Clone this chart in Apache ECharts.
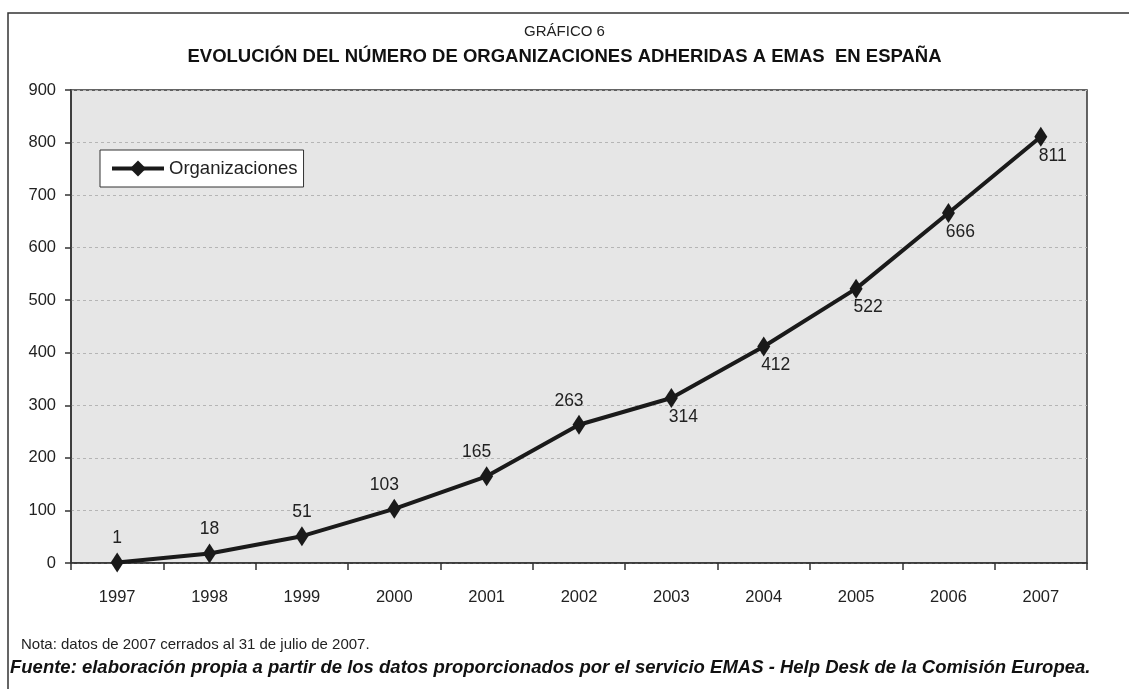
<!DOCTYPE html>
<html>
<head>
<meta charset="utf-8">
<script src="https://cdn.jsdelivr.net/npm/echarts@6/dist/echarts.min.js"></script>
<style>
  html, body { margin: 0; padding: 0; background: #fff; }
  #chart { width: 1129px; height: 689px; }
</style>
</head>
<body>
<div id="chart"></div>
<script>
// datos del gráfico
var years = ['1997', '1998', '1999', '2000', '2001', '2002', '2003', '2004', '2005', '2006', '2007'];
var organizaciones = [1, 18, 51, 103, 165, 263, 314, 412, 522, 666, 811];
var yTicks = [0, 100, 200, 300, 400, 500, 600, 700, 800, 900];

var font = '"Liberation Sans", Arial, sans-serif';
var chart = echarts.init(document.getElementById('chart'));

// primeros años etiqueta arriba (algo a la izquierda), el resto abajo a la derecha
var seriesData = organizaciones.map(function (v, i) {
  var above = i < 6;
  return {
    value: v,
    label: {
      position: above ? 'top' : 'bottom',
      distance: above ? 5 : 0,
      offset: above ? [i < 3 ? 0 : -10, 0] : [12, 0]
    }
  };
});

var option = {
  animation: false,
  textStyle: { fontFamily: font },
  title: [
    {
      text: 'GRÁFICO 6',
      left: 'center', top: 19,
      textStyle: { fontSize: 15, fontWeight: 'normal', color: '#222', fontFamily: font }
    },
    {
      text: 'EVOLUCIÓN DEL NÚMERO DE ORGANIZACIONES ADHERIDAS A EMAS  EN ESPAÑA',
      left: 'center', top: 42,
      textStyle: { fontSize: 18.5, fontWeight: 'bold', color: '#111', fontFamily: font }
    }
  ],
  graphic: [
    {
      type: 'rect',
      shape: { x: 8, y: 13, width: 1200, height: 800 },
      style: { fill: 'none', stroke: '#333', lineWidth: 1.5 },
      silent: true
    },
    {
      type: 'text', left: 21, top: 637,
      style: { text: 'Nota: datos de 2007 cerrados al 31 de julio de 2007.', font: '15px ' + font, fill: '#222' }
    },
    {
      type: 'text', left: 10, top: 658,
      style: { text: 'Fuente: elaboración propia a partir de los datos proporcionados por el servicio EMAS - Help Desk de la Comisión Europea.', font: 'italic bold 18.5px ' + font, fill: '#111' }
    }
  ],
  legend: {
    data: ['Organizaciones'],
    left: 100, top: 150,
    padding: [9, 6, 9, 10],
    backgroundColor: '#fff',
    borderColor: '#333',
    borderWidth: 1,
    borderRadius: 0,
    itemWidth: 52,
    itemHeight: 20,
    itemGap: 4,
    lineStyle: { width: 4 },
    textStyle: { fontSize: 18.5, color: '#222', fontFamily: font }
  },
  grid: {
    left: 71, right: 42, top: 90, bottom: 126,
    show: true,
    backgroundColor: '#e6e6e6',
    borderColor: '#333',
    borderWidth: 1.5
  },
  xAxis: {
    type: 'category',
    data: years,
    boundaryGap: true,
    axisLine: { lineStyle: { color: '#333', width: 1.5 } },
    axisTick: { show: true, length: 7, lineStyle: { color: '#333', width: 1.5 } },
    axisLabel: { fontSize: 16.5, color: '#222', margin: 26, fontFamily: font }
  },
  yAxis: {
    type: 'value',
    min: yTicks[0],
    max: yTicks[yTicks.length - 1],
    interval: 100,
    axisLine: { show: true, lineStyle: { color: '#333', width: 1.5 } },
    axisTick: { show: true, length: 6, lineStyle: { color: '#333', width: 1.5 } },
    axisLabel: { fontSize: 16.5, color: '#222', margin: 15, fontFamily: font },
    splitLine: { show: true, lineStyle: { color: '#b5b5b5', type: [3, 3], width: 1 } }
  },
  series: [
    {
      name: 'Organizaciones',
      type: 'line',
      data: seriesData,
      symbol: 'diamond',
      symbolSize: [13, 20],
      itemStyle: { color: '#1a1a1a' },
      lineStyle: { color: '#1a1a1a', width: 4 },
      label: { show: true, fontSize: 17.5, color: '#222', fontFamily: font }
    }
  ]
};

chart.setOption(option);
</script>
</body>
</html>
